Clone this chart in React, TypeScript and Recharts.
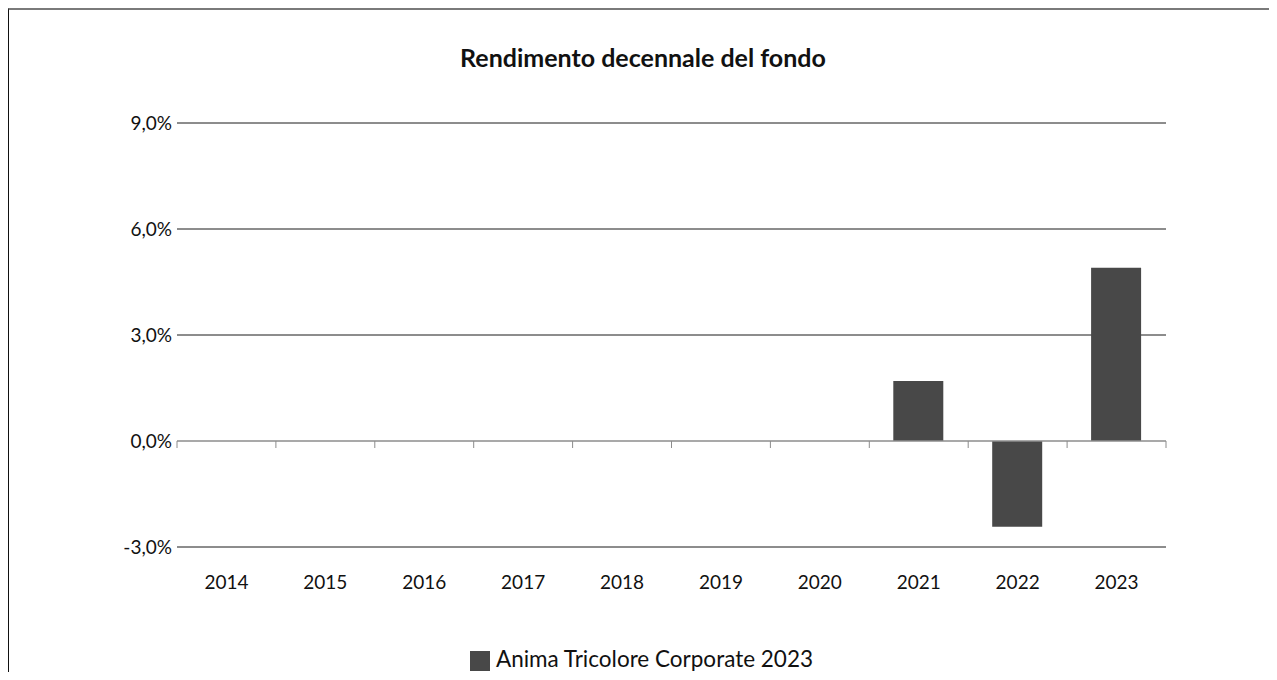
import { BarChart, Bar, XAxis, YAxis, CartesianGrid, ReferenceLine, Legend } from "recharts"

const title = "Rendimento decennale del fondo"
const seriesName = "Anima Tricolore Corporate 2023"
const years = ["2014", "2015", "2016", "2017", "2018", "2019", "2020", "2021", "2022", "2023"]
const rendimento = [null, null, null, null, null, null, null, 1.7, -2.43, 4.9]
const yTicks = [-3, 0, 3, 6, 9]

const data = years.map((year, i) => ({ year, value: rendimento[i] }))

const formatPct = (v: number) => `${v.toFixed(1).replace(".", ",")}%`

// zero line with the small ticks between categories
function ZeroAxis(props: any) {
  const { x1, x2, y1 } = props
  const step = (x2 - x1) / years.length
  const marks = [...years.map((_, i) => i), years.length]
  return (
    <g>
      <line x1={x1} x2={x2} y1={y1} y2={y1} stroke="#8c8c8c" strokeWidth={1.5} />
      {marks.map((i) => (
        <line key={i} x1={x1 + i * step} x2={x1 + i * step} y1={y1} y2={y1 + 7} stroke="#8c8c8c" strokeWidth={1} />
      ))}
    </g>
  )
}

export default function App() {
  return (
    <div
      style={{
        width: 1260,
        height: 662,
        borderTop: "2px solid #7a7a7a",
        borderLeft: "1px solid #111",
        overflow: "hidden",
        position: "relative",
        fontFamily: "Lato, sans-serif",
      }}
    >
      <div
        style={{
          position: "absolute",
          top: 33,
          left: 0,
          width: 1268,
          textAlign: "center",
          fontSize: 25,
          fontWeight: 700,
          color: "#111",
          lineHeight: "28px",
        }}
      >
        {title}
      </div>
      <BarChart width={1268} height={662} data={data} margin={{ top: 113, right: 111, left: 108, bottom: 58 }}>
        <CartesianGrid vertical={false} horizontalValues={[-3, 3, 6, 9]} stroke="#1a1a1a" strokeWidth={1} />
        <XAxis
          dataKey="year"
          axisLine={false}
          tickLine={false}
          tickSize={0}
          tickMargin={29}
          height={40}
          interval={0}
          tick={{ fontSize: 19, fill: "#111" }}
        />
        <YAxis
          domain={[-3, 9]}
          ticks={yTicks}
          width={60}
          axisLine={false}
          tickLine={false}
          tickSize={0}
          tickMargin={5}
          tickFormatter={formatPct}
          tick={{ fontSize: 19, fill: "#111" }}
        />
        <Legend
          verticalAlign="bottom"
          iconType="square"
          iconSize={20}
          wrapperStyle={{ bottom: 0, fontSize: 22.5, paddingLeft: 5 }}
          formatter={(value) => <span style={{ color: "#111", marginLeft: 2 }}>{value}</span>}
        />
        <Bar dataKey="value" name={seriesName} fill="#484848" barSize={50} isAnimationActive={false} />
        <ReferenceLine y={0} shape={ZeroAxis} />
      </BarChart>
    </div>
  )
}
